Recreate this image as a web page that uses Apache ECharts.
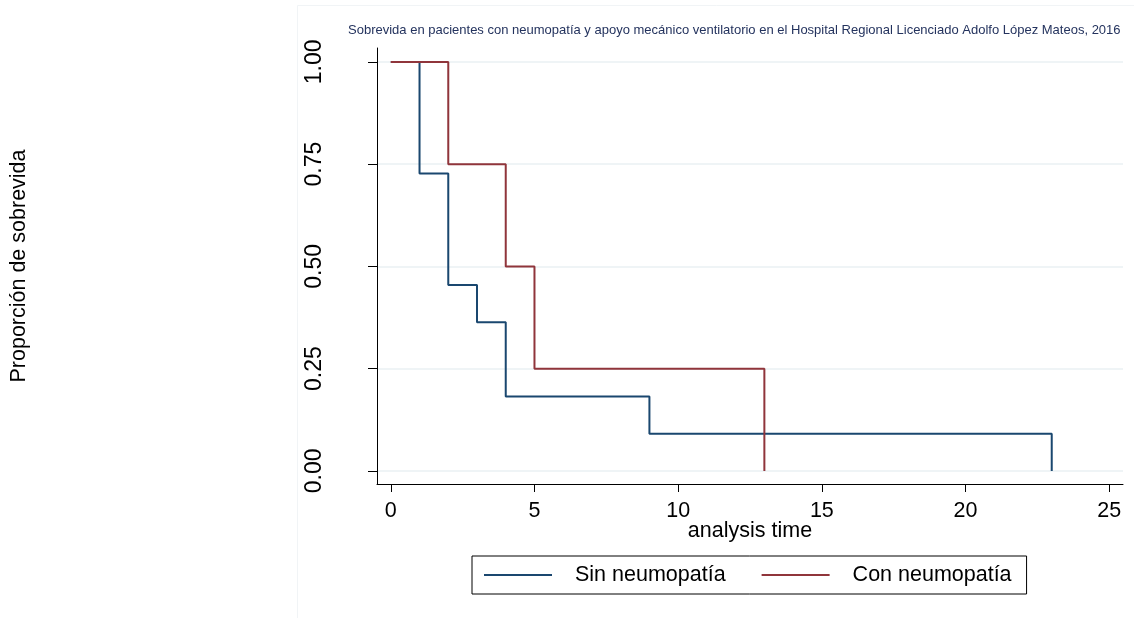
<!DOCTYPE html>
<html><head><meta charset="utf-8">
<script src="https://cdn.jsdelivr.net/npm/echarts@6/dist/echarts.min.js"></script>
<style>html,body{margin:0;padding:0;background:#fff}#c{width:1134px;height:618px}</style>
</head><body><div id="c"></div>
<script>
const titleText = 'Sobrevida en pacientes con neumopatía y apoyo mecánico ventilatorio en el Hospital Regional Licenciado Adolfo López Mateos, 2016';
const seriesNames = ['Sin neumopatía', 'Con neumopatía'];
const sinTimes = [0, 1, 2, 3, 4, 9, 23];
const sinSurv = [1.0, 0.7273, 0.4545, 0.3636, 0.1818, 0.0909, 0.0];
const conTimes = [0, 2, 4, 5, 13];
const conSurv = [1.0, 0.75, 0.5, 0.25, 0.0];
const xTicks = [0, 5, 10, 15, 20, 25];
const yTicks = [0, 0.25, 0.5, 0.75, 1.0];
const xTitle = 'analysis time';
const yTitle = 'Proporción de sobrevida';

const font = 'Liberation Sans, Arial, sans-serif';
const chart = echarts.init(document.getElementById('c'));
chart.setOption({
  animation: false,
  backgroundColor: '#fff',
  title: {
    text: titleText, left: 343, top: 19,
    textStyle: {fontFamily: font, fontSize: 13, fontWeight: 'normal', color: '#24335e'}
  },
  graphic: [{
    type: 'rect', shape: {x: 297.5, y: 5.5, width: 900, height: 700},
    style: {fill: 'none', stroke: '#f1f4f6', lineWidth: 1}, silent: true, z: -1
  }],
  grid: {left: 377, right: 11, top: 48, bottom: 134, containLabel: false, outerBoundsMode: 'none'},
  legend: {
    data: seriesNames, left: 472, top: 556, icon: 'rect',
    borderColor: '#000', borderWidth: 1, padding: [8, 15, 8, 12],
    itemWidth: 68, itemHeight: 2, itemGap: 36,
    textStyle: {fontFamily: font, fontSize: 21.5, color: '#000', padding: [0, 0, 0, 18]}
  },
  xAxis: {
    type: 'value', min: -0.48, max: 25.48,
    name: xTitle, nameLocation: 'middle', nameGap: 36, nameMoveOverlap: false,
    nameTextStyle: {fontFamily: font, fontSize: 21.5, color: '#000'},
    axisLine: {onZero: false, lineStyle: {color: '#000', width: 1}},
    axisTick: {show: true, length: 8, lineStyle: {color: '#000'}, customValues: xTicks},
    axisLabel: {customValues: xTicks, margin: 16, fontFamily: font, fontSize: 21.5, color: '#000'},
    splitLine: {show: false}
  },
  yAxis: {
    type: 'value', min: -0.032, max: 1.034,
    name: yTitle, nameLocation: 'middle', nameRotate: 90, nameGap: 347, nameMoveOverlap: false,
    nameTextStyle: {fontFamily: font, fontSize: 21.5, color: '#000'},
    axisLine: {show: true, onZero: false, lineStyle: {color: '#000', width: 1}},
    axisTick: {show: true, length: 9, lineStyle: {color: '#000'}, customValues: yTicks},
    axisLabel: {customValues: yTicks, rotate: 90, margin: 51, fontFamily: font, fontSize: 23, color: '#000',
      formatter: v => Number(v).toFixed(2)},
    splitLine: {show: true, lineStyle: {color: '#eaf0f3', width: 1.5}}
  },
  series: [
    {name: seriesNames[0], type: 'line', step: 'end', symbol: 'none',
     lineStyle: {color: '#1a476f', width: 2}, itemStyle: {color: '#1a476f'},
     data: sinTimes.map((t, i) => [t, sinSurv[i]])},
    {name: seriesNames[1], type: 'line', step: 'end', symbol: 'none',
     lineStyle: {color: '#90353b', width: 2}, itemStyle: {color: '#90353b'},
     data: conTimes.map((t, i) => [t, conSurv[i]])}
  ]
});
</script></body></html>
